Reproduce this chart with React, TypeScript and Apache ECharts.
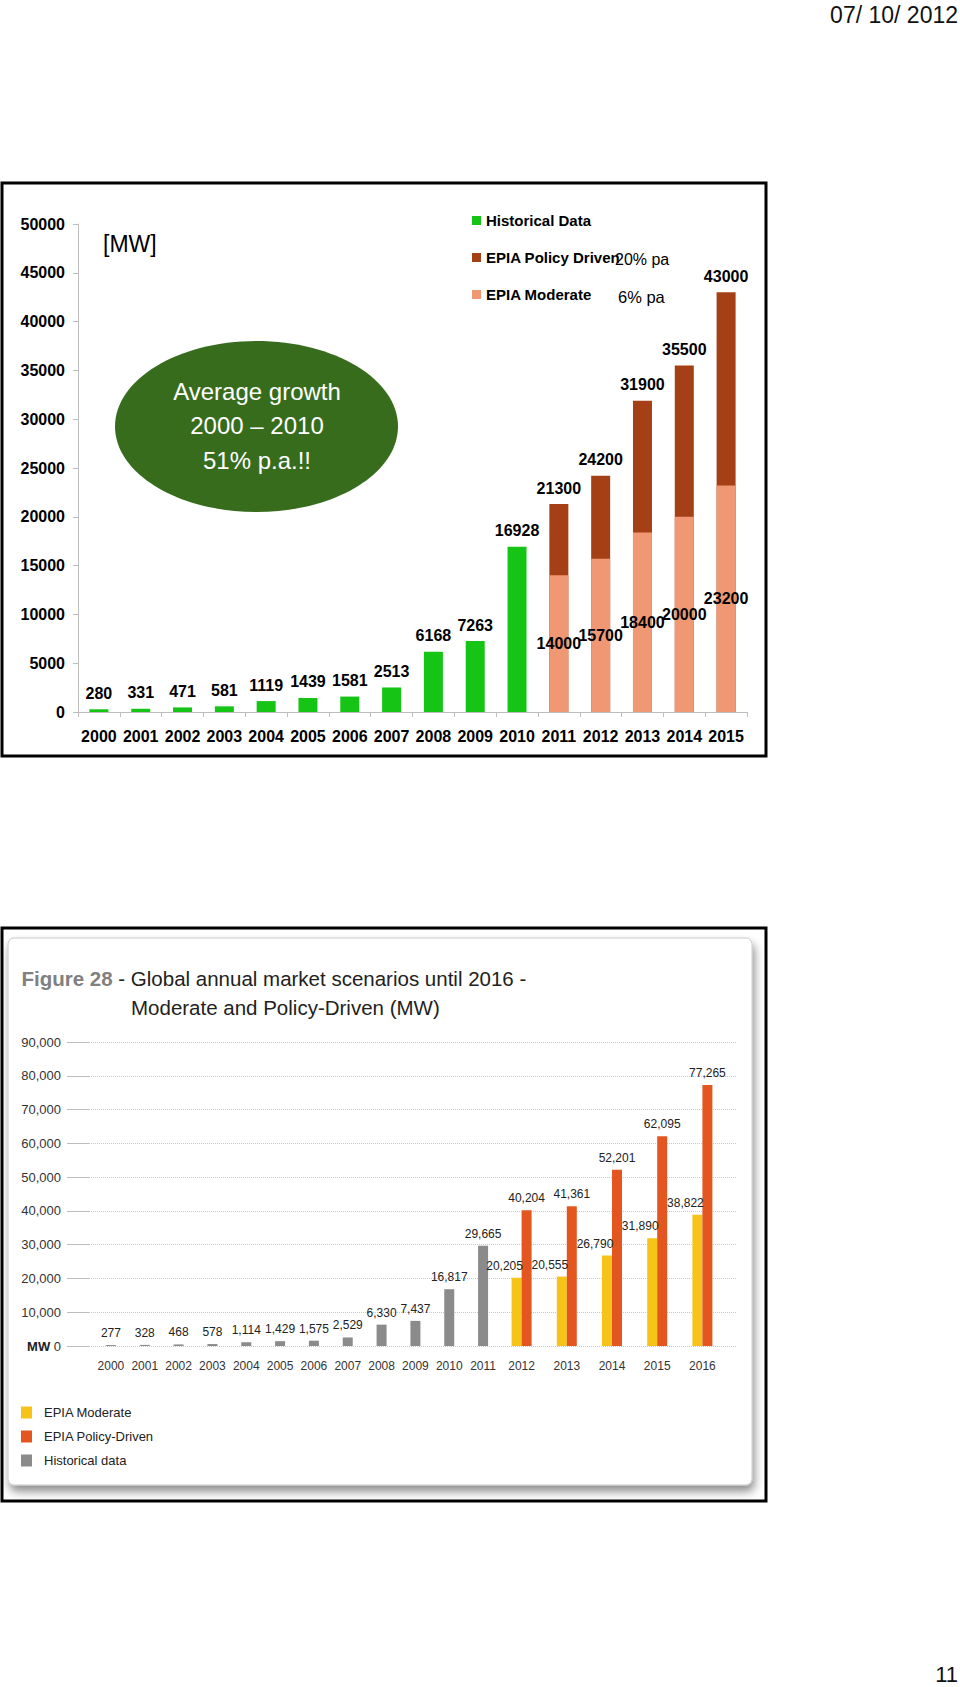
import React, { useEffect, useRef } from "react";
import * as echarts from "echarts";

// ---------- Top chart data ----------
const topYears = ["2000","2001","2002","2003","2004","2005","2006","2007","2008","2009","2010","2011","2012","2013","2014","2015"];
const topHistorical = [280, 331, 471, 581, 1119, 1439, 1581, 2513, 6168, 7263, 16928, null, null, null, null, null];
const topModerate = [null, null, null, null, null, null, null, null, null, null, null, 14000, 15700, 18400, 20000, 23200];
const topPolicy = [null, null, null, null, null, null, null, null, null, null, null, 21300, 24200, 31900, 35500, 43000];

// ---------- Bottom chart data ----------
const histYears = ["2000","2001","2002","2003","2004","2005","2006","2007","2008","2009","2010","2011"];
const histValues = [277, 328, 468, 578, 1114, 1429, 1575, 2529, 6330, 7437, 16817, 29665];
const scenYears = ["2012","2013","2014","2015","2016"];
const moderateValues = [20205, 20555, 26790, 31890, 38822];
const policyValues = [40204, 41361, 52201, 62095, 77265];

const NARROW = "'Liberation Sans Narrow', 'Liberation Sans', Arial, sans-serif";
const SANS = "'Liberation Sans', Arial, sans-serif";

const fmt = (v: number) => Number(v).toLocaleString("en-US");

function topOption(): any {
  const lblTop = {
    show: true,
    position: "top",
    distance: 8,
    color: "#000",
    fontFamily: NARROW,
    fontWeight: "bold",
    fontSize: 16,
  };
  return {
    animation: false,
    legend: {
      orient: "vertical",
      left: 467,
      top: 208,
      itemWidth: 9,
      itemHeight: 9,
      itemGap: 22,
      icon: "rect",
      data: ["Historical Data", "EPIA Policy Driven", "EPIA Moderate"],
      textStyle: { fontFamily: NARROW, fontWeight: "bold", fontSize: 15, color: "#000" },
      selectedMode: false,
    },
    graphic: [
      {
        type: "text",
        right: 2,
        top: 3,
        style: { text: "07/ 10/ 2012", font: `23px ${SANS}`, fill: "#111" },
      },
      {
        type: "rect",
        shape: { x: 2, y: 183, width: 764, height: 573 },
        style: { fill: "none", stroke: "#000", lineWidth: 3 },
      },
      {
        type: "text",
        x: 103,
        y: 244,
        style: { text: "[MW]", font: `23px ${NARROW}`, fill: "#000", textVerticalAlign: "middle" },
      },
      {
        type: "ellipse",
        shape: { cx: 256.5, cy: 426.5, rx: 141.5, ry: 85.5 },
        style: { fill: "#376c1d" },
      },
      {
        type: "text",
        x: 257,
        y: 391,
        style: { text: "Average growth", font: `24px ${NARROW}`, fill: "#fff", textAlign: "center", textVerticalAlign: "middle" },
      },
      {
        type: "text",
        x: 257,
        y: 425,
        style: { text: "2000 – 2010", font: `24px ${NARROW}`, fill: "#fff", textAlign: "center", textVerticalAlign: "middle" },
      },
      {
        type: "text",
        x: 257,
        y: 460,
        style: { text: "51% p.a.!!", font: `24px ${NARROW}`, fill: "#fff", textAlign: "center", textVerticalAlign: "middle" },
      },
      {
        type: "text",
        x: 615,
        y: 259,
        style: { text: "20% pa", font: `16px ${NARROW}`, fill: "#000", textVerticalAlign: "middle" },
      },
      {
        type: "text",
        x: 618,
        y: 297,
        style: { text: "6% pa", font: `16.5px ${NARROW}`, fill: "#000", textVerticalAlign: "middle" },
      },
    ],
    grid: { left: 78, right: 213, top: 224, bottom: 88 },
    xAxis: {
      type: "category",
      data: topYears,
      axisLine: { lineStyle: { color: "#bdbdbd", width: 1 } },
      axisTick: { show: true, length: 5, lineStyle: { color: "#bdbdbd" } },
      axisLabel: { interval: 0, color: "#000", fontFamily: NARROW, fontWeight: "bold", fontSize: 16, margin: 16 },
    },
    yAxis: {
      type: "value",
      min: 0,
      max: 50000,
      interval: 5000,
      axisLine: { show: true, lineStyle: { color: "#bdbdbd", width: 1 } },
      axisTick: { show: true, length: 5, lineStyle: { color: "#bdbdbd" } },
      splitLine: { show: false },
      axisLabel: {
        color: "#000",
        fontFamily: NARROW,
        fontWeight: "bold",
        fontSize: 16,
        margin: 13,
        formatter: (v: number) => String(v),
      },
    },
    series: [
      {
        name: "EPIA Policy Driven",
        type: "bar",
        data: topPolicy,
        barWidth: 19,
        barGap: "-100%",
        itemStyle: { color: "#a53f15" },
        label: lblTop,
      },
      {
        name: "EPIA Moderate",
        type: "bar",
        data: topModerate,
        barWidth: 19,
        barGap: "-100%",
        itemStyle: { color: "#f09873" },
        label: { ...lblTop, position: "inside" },
      },
      {
        name: "Historical Data",
        type: "bar",
        data: topHistorical,
        barWidth: 19,
        barGap: "-100%",
        itemStyle: { color: "#16c416" },
        label: lblTop,
      },
    ],
  };
}

function bottomOption(): any {
  const OFF = 800;
  const top = 1042 - OFF;
  const bottom = 887 - (1346 - OFF);
  const lbl = {
    show: true,
    position: "top",
    distance: 6,
    color: "#222",
    fontFamily: SANS,
    fontSize: 12,
    formatter: (p: any) => fmt(p.value),
  };
  const xLabel = { interval: 0, color: "#333", fontFamily: SANS, fontSize: 12, margin: 14 };
  return {
    animation: false,
    graphic: [
      {
        type: "rect",
        shape: { x: 2, y: 928 - OFF, width: 764, height: 573 },
        style: { fill: "none", stroke: "#000", lineWidth: 3 },
      },
      {
        type: "rect",
        shape: { x: 8, y: 938 - OFF, width: 744, height: 547, r: 6 },
        style: {
          fill: "#fff",
          stroke: "#c8c8c8",
          lineWidth: 1,
          shadowBlur: 10,
          shadowOffsetY: 6,
          shadowOffsetX: 2,
          shadowColor: "rgba(0,0,0,0.45)",
        },
        z: -10,
      },
      {
        type: "text",
        x: 21.5,
        y: 978 - OFF,
        style: {
          text: "{f|Figure 28} - Global annual market scenarios until 2016 -",
          font: `20.5px ${SANS}`,
          fill: "#222",
          textVerticalAlign: "middle",
          rich: { f: { fontFamily: SANS, fontSize: 20.5, fontWeight: "bold", fill: "#808080" } },
        },
      },
      {
        type: "text",
        x: 131,
        y: 1007 - OFF,
        style: { text: "Moderate and Policy-Driven (MW)", font: `20.5px ${SANS}`, fill: "#222", textVerticalAlign: "middle" },
      },
      {
        type: "text",
        right: 2,
        bottom: 2,
        style: { text: "11", font: `22px ${SANS}`, fill: "#111" },
      },
    ],
    legend: {
      orient: "vertical",
      left: 16,
      top: 1401 - OFF,
      itemWidth: 11,
      itemHeight: 12,
      itemGap: 11,
      icon: "rect",
      selectedMode: false,
      data: ["EPIA Moderate", "EPIA Policy-Driven", "Historical data"],
      textStyle: { fontFamily: SANS, fontSize: 13, color: "#222", padding: [0, 0, 0, 7] },
    },
    grid: [
      { left: 94, right: 460, top, bottom },
      { left: 499, right: 235, top, bottom },
      { left: 89, right: 223, top, bottom },
    ],
    xAxis: [
      {
        gridIndex: 0,
        type: "category",
        data: histYears,
        axisLine: { show: false },
        axisTick: { show: false },
        axisLabel: xLabel,
      },
      {
        gridIndex: 1,
        type: "category",
        data: scenYears,
        axisLine: { show: false },
        axisTick: { show: false },
        axisLabel: xLabel,
      },
      { gridIndex: 2, type: "category", data: [], show: false },
    ],
    yAxis: [
      { gridIndex: 0, type: "value", min: 0, max: 90000, interval: 10000, show: false },
      { gridIndex: 1, type: "value", min: 0, max: 90000, interval: 10000, show: false },
      {
        gridIndex: 2,
        type: "value",
        min: 0,
        max: 90000,
        interval: 10000,
        axisLine: { show: false },
        axisTick: { show: true, length: 22, lineStyle: { color: "#bdbdbd", width: 1 } },
        splitLine: { show: true, lineStyle: { color: "#c8c8c8", type: "dotted", width: 1 } },
        axisLabel: {
          margin: 28,
          color: "#333",
          fontFamily: SANS,
          fontSize: 13,
          formatter: (v: number) => (v === 0 ? "{b|MW} 0" : fmt(v)),
          rich: { b: { fontFamily: SANS, fontSize: 13, fontWeight: "bold", color: "#222" } },
        },
      },
    ],
    series: [
      {
        name: "Historical data",
        type: "bar",
        xAxisIndex: 0,
        yAxisIndex: 0,
        data: histValues,
        barWidth: 10,
        itemStyle: { color: "#8b8b8b" },
        label: lbl,
      },
      {
        name: "EPIA Moderate",
        type: "bar",
        xAxisIndex: 1,
        yAxisIndex: 1,
        data: moderateValues,
        barWidth: 10,
        barGap: 0,
        itemStyle: { color: "#f6c319" },
        label: { ...lbl, offset: [-12, 0] },
      },
      {
        name: "EPIA Policy-Driven",
        type: "bar",
        xAxisIndex: 1,
        yAxisIndex: 1,
        data: policyValues,
        barWidth: 10,
        barGap: 0,
        itemStyle: { color: "#e3561f" },
        label: lbl,
      },
    ],
  };
}

export default function App() {
  const topRef = useRef<HTMLDivElement>(null);
  const botRef = useRef<HTMLDivElement>(null);
  useEffect(() => {
    const a = echarts.init(topRef.current!, undefined, { renderer: "svg" });
    a.setOption(topOption());
    const b = echarts.init(botRef.current!, undefined, { renderer: "svg" });
    b.setOption(bottomOption());
    return () => {
      a.dispose();
      b.dispose();
    };
  }, []);
  return (
    <div style={{ position: "absolute", left: 0, top: 0, width: 960, height: 1687, background: "#fff" }}>
      <div ref={topRef} style={{ position: "absolute", left: 0, top: 0, width: 960, height: 800 }} />
      <div ref={botRef} style={{ position: "absolute", left: 0, top: 800, width: 960, height: 887 }} />
    </div>
  );
}
